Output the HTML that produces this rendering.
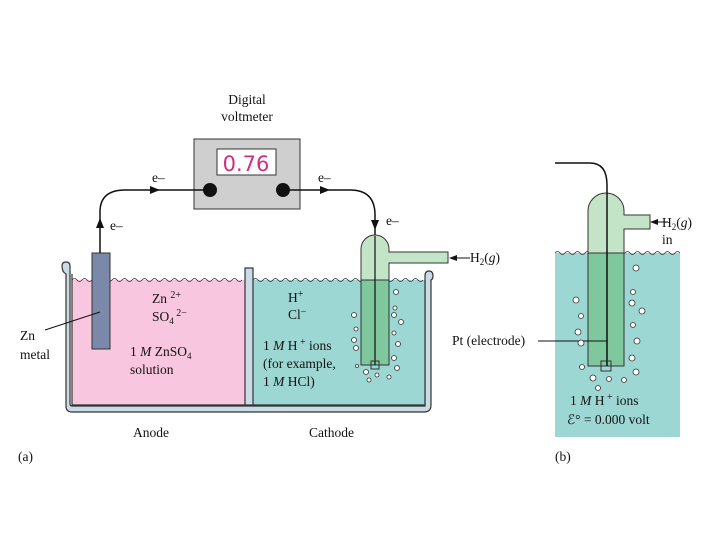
<!DOCTYPE html>
<html><head><meta charset="utf-8"><style>
body{margin:0;background:#fff}
svg{display:block}
text{font-family:"Liberation Serif",serif;font-size:13.5px;fill:#111}
</style></head><body>
<svg width="720" height="540" viewBox="0 0 720 540" xmlns="http://www.w3.org/2000/svg">
<!-- tank a -->
<path d="M62,266 q0,-4 4,-4 q4,0 4,4 V404 q0,2 2,2 H425 V276 q0,-5 4,-5 q4,0 4,5 q0,3 -2,4 V405 q0,7 -7,7 H72 q-6,0 -6,-6 V274 q-4,-2 -4,-8z" fill="#c9dbe6" stroke="#333" stroke-width="1.2"/>
<rect x="72" y="280" width="173" height="125" fill="#f9c6df"/>
<rect x="253" y="280" width="172" height="125" fill="#9dd7d4"/>
<path d="M72,274 V405 H425 V280" fill="none" stroke="#333" stroke-width="1.2"/>
<rect x="245" y="268" width="8" height="137" fill="#c9dbe6" stroke="#333" stroke-width="1.2"/>
<path d="M72,280 q2.5,-3 5,0 t5,0 t5,0 t5,0 t5,0 t5,0 t5,0 t5,0 t5,0 t5,0 t5,0 t5,0 t5,0 t5,0 t5,0 t5,0 t5,0 t5,0 t5,0 t5,0 t5,0 t5,0 t5,0 t5,0 t5,0 t5,0 t5,0 t5,0 t5,0 t5,0 t5,0 t5,0 t5,0 t5,0" fill="none" stroke="#333" stroke-width="0.8"/>
<path d="M253,280 q2.5,-3 5,0 t5,0 t5,0 t5,0 t5,0 t5,0 t5,0 t5,0 t5,0 t5,0 t5,0 t5,0 t5,0 t5,0 t5,0 t5,0 t5,0 t5,0 t5,0 t5,0 t5,0 t5,0 t5,0 t5,0 t5,0 t5,0 t5,0 t5,0 t5,0 t5,0 t5,0 t5,0 t5,0 t5,0" fill="none" stroke="#333" stroke-width="0.8"/>
<!-- Zn -->
<rect x="92" y="253" width="18" height="96" fill="#7a88aa" stroke="#333" stroke-width="1"/>
<line x1="45" y1="330" x2="100" y2="312" stroke="#111" stroke-width="1"/>
<!-- voltmeter -->
<rect x="194" y="139" width="106" height="70" fill="#cfcfcf" stroke="#333" stroke-width="1"/>
<rect x="217" y="149" width="59" height="26" fill="#fff" stroke="#333" stroke-width="1"/>
<text x="246" y="171" text-anchor="middle" style="font-family:'DejaVu Sans',sans-serif;font-size:21px;fill:#d0307a">0.76</text>
<circle cx="210" cy="190" r="7" fill="#111"/>
<circle cx="283" cy="190" r="7" fill="#111"/>
<!-- wires -->
<path d="M100,253 V212 Q100,190 125,190 H210" fill="none" stroke="#111" stroke-width="1.5"/>
<path d="M100,218 l-4,10 h8z" fill="#111"/>
<path d="M160,190 l-10,-4 v8z" fill="#111"/>
<path d="M283,190 H350 Q375,190 375,215 V365" fill="none" stroke="#111" stroke-width="1.5"/>
<path d="M330,190 l-10,-4 v8z" fill="#111"/>
<path d="M375,230 l-4,-10 h8z" fill="#111"/>
<!-- tube a -->
<path d="M361,280 V249 a14,14 0 0 1 28,0 V252 H448 V263 H389 V280z" fill="#c4e4c8" stroke="#333" stroke-width="1"/>
<rect x="361" y="280" width="28" height="85" fill="#7fc79c" stroke="#333" stroke-width="1"/>
<line x1="375" y1="236" x2="375" y2="365" stroke="#111" stroke-width="1.2"/>
<rect x="371" y="361" width="8" height="8" fill="none" stroke="#333"/>
<path d="M455,258 H470" stroke="#111" stroke-width="1"/><path d="M449,258 l8,-3 v6z" fill="#111"/>
<g fill="#fff" stroke="#333" stroke-width="0.8">
<circle cx="396" cy="292" r="2.5"/><circle cx="395" cy="308" r="2"/><circle cx="394" cy="315" r="2.5"/><circle cx="401" cy="322" r="2.5"/><circle cx="394" cy="333" r="2"/><circle cx="398" cy="344" r="2.5"/><circle cx="394" cy="358" r="2.5"/><circle cx="397" cy="368" r="2.5"/><circle cx="389" cy="377" r="2"/><circle cx="377" cy="375" r="2"/><circle cx="366" cy="372" r="2.5"/><circle cx="369" cy="380" r="2"/><circle cx="354" cy="315" r="2.5"/><circle cx="356" cy="329" r="2"/><circle cx="354" cy="340" r="2.5"/><circle cx="356" cy="348" r="2.5"/><circle cx="357" cy="366" r="1.5"/>
</g>
<!-- texts a -->
<text x="247" y="104" text-anchor="middle">Digital</text>
<text x="247" y="121" text-anchor="middle">voltmeter</text>
<text x="152" y="182">e–</text>
<text x="318" y="182">e–</text>
<text x="110" y="230">e–</text>
<text x="386" y="225">e–</text>
<text x="470" y="262">H<tspan font-size="9" dy="3">2</tspan><tspan dy="-3">(</tspan><tspan font-style="italic">g</tspan>)</text>
<text x="152" y="303">Zn <tspan font-size="10" dy="-5">2+</tspan></text>
<text x="152" y="321">SO<tspan font-size="9" dy="3">4</tspan><tspan font-size="10" dy="-8"> 2−</tspan></text>
<text x="130" y="356">1 <tspan font-style="italic">M</tspan> ZnSO<tspan font-size="9" dy="3">4</tspan></text>
<text x="130" y="374">solution</text>
<text x="20" y="340">Zn</text>
<text x="20" y="359">metal</text>
<text x="288" y="302">H<tspan font-size="10" dy="-5">+</tspan></text>
<text x="288" y="319">Cl<tspan font-size="10" dy="-4">−</tspan></text>
<text x="263" y="350">1 <tspan font-style="italic">M</tspan> H<tspan font-size="10" dy="-5"> +</tspan><tspan dy="5"> ions</tspan></text>
<text x="263" y="368">(for example,</text>
<text x="263" y="386">1 <tspan font-style="italic">M</tspan> HCl)</text>
<text x="133" y="437">Anode</text>
<text x="309" y="437">Cathode</text>
<text x="18" y="461">(a)</text>
<!-- panel b -->
<rect x="555" y="253" width="125" height="184" fill="#9dd7d4"/>
<path d="M555,253 q2.5,-3 5,0 t5,0 t5,0 t5,0 t5,0 t5,0 t5,0 t5,0 t5,0 t5,0 t5,0 t5,0 t5,0 t5,0 t5,0 t5,0 t5,0 t5,0 t5,0 t5,0 t5,0 t5,0 t5,0 t5,0 t5,0" fill="none" stroke="#333" stroke-width="0.8"/>
<path d="M588,253 V211 a18,18 0 0 1 36,0 V215 H650 V229 H624 V253z" fill="#c4e4c8" stroke="#333" stroke-width="1"/>
<rect x="588" y="253" width="36" height="113" fill="#7fc79c" stroke="#333" stroke-width="1"/>
<path d="M555,163 H590 Q607,163 607,185 V366" fill="none" stroke="#111" stroke-width="1.5"/>
<rect x="601" y="361" width="10" height="10" fill="none" stroke="#333"/>
<line x1="538" y1="341" x2="607" y2="341" stroke="#111" stroke-width="1"/>
<path d="M657,222 H668" stroke="#111"/><path d="M650,222 l8,-3 v6z" fill="#111"/>
<text x="662" y="227">H<tspan font-size="9" dy="3">2</tspan><tspan dy="-3">(</tspan><tspan font-style="italic">g</tspan>)</text>
<text x="662" y="244">in</text>
<text x="452" y="345">Pt (electrode)</text>
<g fill="#fff" stroke="#333" stroke-width="0.8">
<circle cx="636" cy="268" r="3"/><circle cx="633" cy="292" r="2.5"/><circle cx="632" cy="303" r="3"/><circle cx="642" cy="311" r="3"/><circle cx="633" cy="325" r="2.5"/><circle cx="637" cy="341" r="3"/><circle cx="632" cy="358" r="3"/><circle cx="636" cy="372" r="3"/><circle cx="624" cy="380" r="2.5"/><circle cx="609" cy="379" r="2.5"/><circle cx="593" cy="378" r="3"/><circle cx="598" cy="388" r="2.5"/><circle cx="576" cy="300" r="3"/><circle cx="581" cy="316" r="2.5"/><circle cx="578" cy="332" r="3"/><circle cx="581" cy="343" r="3"/><circle cx="582" cy="367" r="2.5"/>
</g>
<text x="570" y="405">1 <tspan font-style="italic">M</tspan> H<tspan font-size="10" dy="-5"> +</tspan><tspan dy="5"> ions</tspan></text>
<text x="567" y="424">ℰ° = 0.000 volt</text>
<text x="555" y="461">(b)</text>
</svg>
</body></html>
